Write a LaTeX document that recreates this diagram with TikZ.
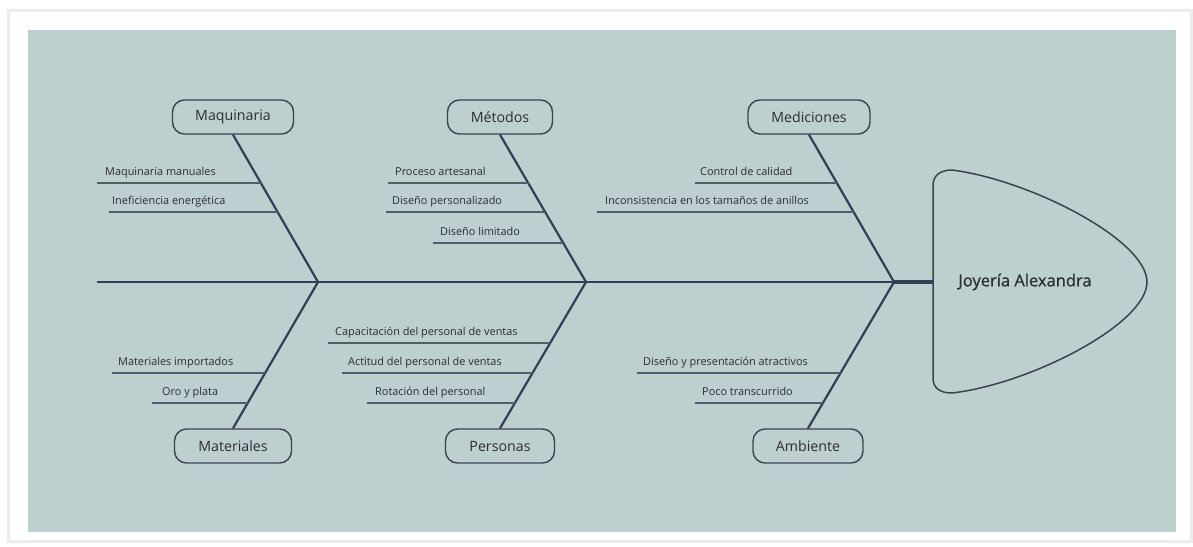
\documentclass[tikz,border=0pt]{standalone}
\usepackage{fontspec}
\setmainfont{Open Sans}
\newfontfamily\headfont[FakeBold=0.8]{Open Sans}
\definecolor{bgteal}{HTML}{BDCFCF}
\definecolor{bone}{HTML}{2F4254}
\definecolor{sub}{HTML}{4E5F6E}
\definecolor{ink}{HTML}{2B2F33}
\definecolor{boxline}{HTML}{3A444E}
\tikzset{
  catbox/.style={draw=boxline, line width=1.4pt, rounded corners=12pt, minimum height=34pt, inner sep=0pt, font=\fontsize{14.2}{16}\selectfont, text=ink},
  boneline/.style={draw=bone, line width=2.2pt},
  subline/.style={draw=sub, line width=1.3pt},
  subtext/.style={anchor=base west, inner sep=0pt, font=\fontsize{10.9}{13}\selectfont, text=ink},
}
\begin{document}
\begin{tikzpicture}[x=1pt,y=-1pt]
\useasboundingbox (0,0) rectangle (1193,546);
\fill[white] (0,0) rectangle (1193,546);
\fill[black!7] (7,9) rectangle (1193,543);
\fill[white] (10,12) rectangle (1190,540);
\fill[bgteal] (28,30) rectangle (1176,532);

% category boxes
\node[catbox, minimum width=121pt] (maq) at (233,117) {Maquinaria};
\node[catbox, minimum width=105pt] (met) at (500,117) {Métodos};
\node[catbox, minimum width=122pt] (med) at (809,117) {Mediciones};
\node[catbox, minimum width=117pt] (mat) at (233,446) {Materiales};
\node[catbox, minimum width=109pt] (per) at (500,446) {Personas};
\node[catbox, minimum width=110pt] (amb) at (808,446) {Ambiente};

% junctions
\coordinate (tail) at (97,282);
\coordinate (j1) at (318,282);
\coordinate (j2) at (586,282);
\coordinate (j3) at (894,282);
\coordinate (headw) at (933,282);

% head
\draw[draw=boxline, line width=1.5pt] (952,170) .. controls (1030,180) and (1147,240) .. (1147,282)
  .. controls (1147,324) and (1030,384) .. (952,393)
  .. controls (940,393) and (933,388) .. (933,378) -- (933,185)
  .. controls (933,176) and (940,170) .. (952,170) -- cycle;
\node[font=\headfont\fontsize{16.5}{18}\selectfont, text=ink] (head) at (1025,282) {Joyería Alexandra};

% spine
\draw[boneline] (tail) -- (j3);
\draw[draw=bone, line width=4pt] (j3) -- (headw);

% bones
\draw[boneline] (maq.south) -- (j1);
\draw[boneline] (met.south) -- (j2);
\draw[boneline] (med.south) -- (j3);
\draw[boneline] (mat.north) -- (j1);
\draw[boneline] (per.north) -- (j2);
\draw[boneline] (amb.north) -- (j3);

% sub-causes
\coordinate (a1s) at (97,183);  \coordinate (a1e) at (261,183);
\coordinate (a2s) at (109,212); \coordinate (a2e) at (278,212);
\coordinate (b1s) at (388,183); \coordinate (b1e) at (528.5,183);
\coordinate (b2s) at (386,212); \coordinate (b2e) at (545,212);
\coordinate (b3s) at (433,243); \coordinate (b3e) at (563,243);
\coordinate (c1s) at (695,183); \coordinate (c1e) at (837,183);
\coordinate (c2s) at (597,212); \coordinate (c2e) at (854,212);
\coordinate (d1s) at (112,373); \coordinate (d1e) at (265,373);
\coordinate (d2s) at (152,403); \coordinate (d2e) at (248,403);
\coordinate (e1s) at (328,343); \coordinate (e1e) at (550,343);
\coordinate (e2s) at (342,373); \coordinate (e2e) at (533,373);
\coordinate (e3s) at (367,403); \coordinate (e3e) at (515,403);
\coordinate (f1s) at (637,373); \coordinate (f1e) at (841,373);
\coordinate (f2s) at (695,403); \coordinate (f2e) at (823,403);

\foreach \n in {a1,a2,b1,b2,b3,c1,c2,d1,d2,e1,e2,e3,f1,f2}{
  \draw[subline] (\n s) -- (\n e);
}

\node[subtext] (ta1) at (105,175.5) {Maquinaria manuales};
\node[subtext] (ta2) at (112,204.5) {Ineficiencia energética};
\node[subtext] (tb1) at (395,175.5) {Proceso artesanal};
\node[subtext] (tb2) at (392,204.5) {Diseño personalizado};
\node[subtext] (tb3) at (440,235.5) {Diseño limitado};
\node[subtext] (tc1) at (700,175.5) {Control de calidad};
\node[subtext] (tc2) at (605,204.5) {Inconsistencia en los tamaños de anillos};
\node[subtext] (td1) at (118,365.5) {Materiales importados};
\node[subtext] (td2) at (162,395.5) {Oro y plata};
\node[subtext] (te1) at (335,335.5) {Capacitación del personal de ventas};
\node[subtext] (te2) at (348,365.5) {Actitud del personal de ventas};
\node[subtext] (te3) at (375,395.5) {Rotación del personal};
\node[subtext] (tf1) at (643,365.5) {Diseño y presentación atractivos};
\node[subtext] (tf2) at (702,395.5) {Poco transcurrido};
\end{tikzpicture}
\end{document}
